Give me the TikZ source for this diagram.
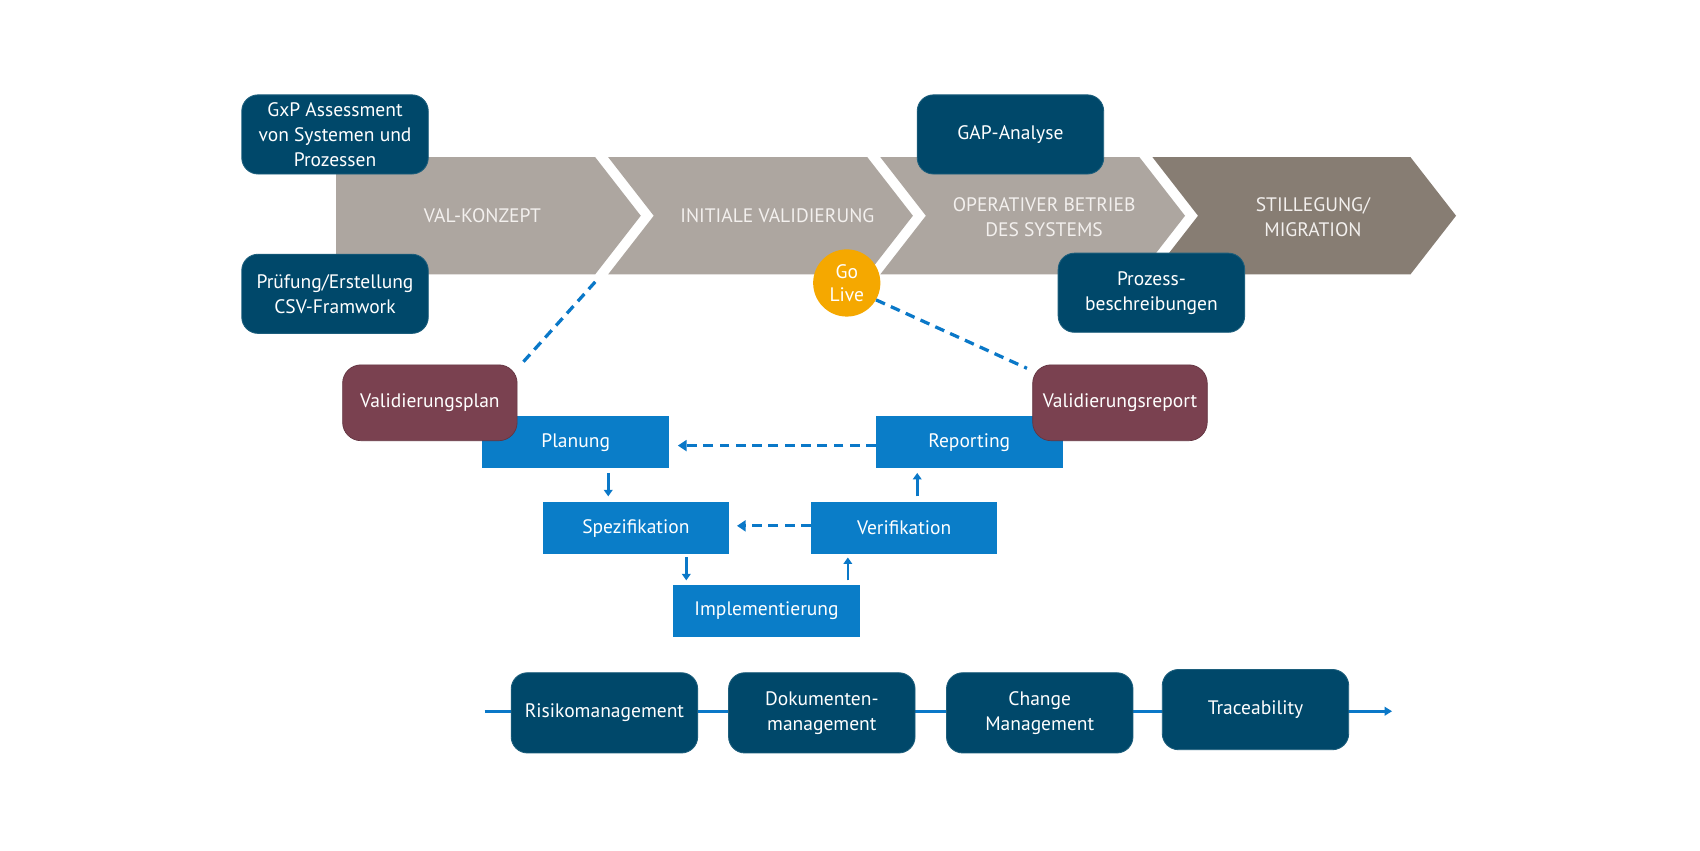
\documentclass[tikz,border=0pt]{standalone}
\usepackage{fontspec}
\setmainfont{PT Sans}
\usetikzlibrary{arrows.meta}
\definecolor{chevlight}{HTML}{ADA6A0}
\definecolor{chevdark}{HTML}{877D73}
\definecolor{chevtext}{HTML}{F3F0EE}
\definecolor{darkbox}{HTML}{00486A}
\definecolor{darkedge}{HTML}{1C5E7C}
\definecolor{maroon}{HTML}{7A4150}
\definecolor{bluebox}{HTML}{0A7DC8}
\definecolor{lineblue}{HTML}{0A78C8}
\definecolor{golive}{HTML}{F5A800}
\tikzset{
  txt/.style={font=\fontsize{18}{23}\selectfont, align=center, text=white},
  darkrbox/.style={txt, fill=darkbox, draw=darkedge, line width=0.8pt, rounded corners=15pt, minimum width=172pt, minimum height=73pt, inner sep=0pt},
  maroonbox/.style={txt, fill=maroon, draw=maroon!80!black, line width=0.6pt, rounded corners=17pt, minimum width=161pt, minimum height=70pt, inner sep=0pt},
  bluerect/.style={txt, fill=bluebox, minimum width=172pt, minimum height=48pt, inner sep=0pt},
  chevlabel/.style={txt, text=chevtext},
  dashline/.style={draw=lineblue, line width=3pt, dash pattern=on 9pt off 6pt},
  dasharr/.style={dashline, -{Triangle[length=8pt,width=10pt]}},
  solidarr/.style={draw=lineblue, line width=2.4pt, -{Triangle[length=6pt,width=8pt]}},
  mainline/.style={draw=lineblue, line width=3pt, -{Triangle[length=7pt,width=8pt]}}
}
\begin{document}
\begin{tikzpicture}[x=1pt,y=-1pt]
\useasboundingbox (0,0) rectangle (1568,784);
\fill[white] (0,0) rectangle (1568,784);
% chevrons
\fill[chevlight] (310,145) -- (549,145) -- (591,199) -- (549,253) -- (310,253) -- cycle;
\fill[chevlight] (561,145) -- (800,145) -- (842,199) -- (800,253) -- (561,253) -- (603,199) -- cycle;
\fill[chevlight] (812,145) -- (1051,145) -- (1093,199) -- (1051,253) -- (812,253) -- (854,199) -- cycle;
\fill[chevdark] (1063,145) -- (1301,145) -- (1343,199) -- (1301,253) -- (1063,253) -- (1105,199) -- cycle;
\node[chevlabel] (valk) at (445,199) {VAL-KONZEPT};
\node[chevlabel] (initv) at (717,199) {INITIALE VALIDIERUNG};
\node[chevlabel] (opbet) at (963,200) {OPERATIVER BETRIEB\\DES SYSTEMS};
\node[chevlabel] (still) at (1211,200) {STILLEGUNG/\\MIGRATION};
\coordinate (c1b) at (549,260);
% dark boxes on the band
\node[darkrbox] (gxp) at (309,124) {GxP Assessment\\von Systemen und\\Prozessen};
\node[darkrbox] (pruef) at (309,271) {Prüfung/Erstellung\\CSV-Framwork};
\node[darkrbox] (gap) at (932,124) {GAP-Analyse};
\node[darkrbox] (proz) at (1062,270) {Prozess-\\beschreibungen};
\node[txt, circle, fill=golive, minimum size=62pt, inner sep=0pt] (golive) at (781,261) {Go\\[-2pt]Live};
% V-model boxes
\node[bluerect] (plan) at (531,408) {Planung};
\node[bluerect] (rep) at (894,408) {Reporting};
\node[bluerect] (spez) at (586.5,487) {Spezifikation};
\node[bluerect] (verif) at (834,487) {Verifikation};
\node[bluerect] (impl) at (707,563.5) {Implementierung};
\node[maroonbox] (vplan) at (396.5,371.5) {Validierungsplan};
\node[maroonbox] (vrep) at (1033,371.5) {Validierungsreport};
% dashed links
\draw[dashline] (c1b) -- ([shift={(5,-2)}]vplan.north east);
\draw[dashline] (golive.-30) -- ([shift={(-5,3.5)}]vrep.north west);
\draw[dasharr] ([yshift=-3pt]rep.west) -- ([shift={(8,3)}]plan.east);
\draw[dasharr] ([yshift=2pt]verif.west) -- ([shift={(7,-2)}]spez.east);
% solid arrows
\draw[solidarr] ([shift={(30,4)}]plan.south) -- ([shift={(-25.5,-5)}]spez.north);
\draw[solidarr] ([shift={(46.5,3)}]spez.south) -- ([shift={(-74,-4)}]impl.north);
\draw[solidarr] ([shift={(75,-4)}]impl.north) -- ([shift={(-52,3)}]verif.south);
\draw[solidarr] ([shift={(12,-5)}]verif.north) -- ([shift={(-48,4)}]rep.south);
% bottom row
\coordinate (bl) at (447,656);
\coordinate (br) at (1284,656);
\draw[mainline] (bl) -- (br);
\node[darkrbox, minimum height=74pt] (risk) at (557.5,657.5) {Risikomanagement};
\node[darkrbox, minimum height=74pt] (doku) at (758,657.5) {Dokumenten-\\management};
\node[darkrbox, minimum height=74pt] (chg) at (959,657.5) {Change\\Management};
\node[darkrbox, minimum height=74pt] (trace) at (1158,654.5) {Traceability};
\end{tikzpicture}
\end{document}
